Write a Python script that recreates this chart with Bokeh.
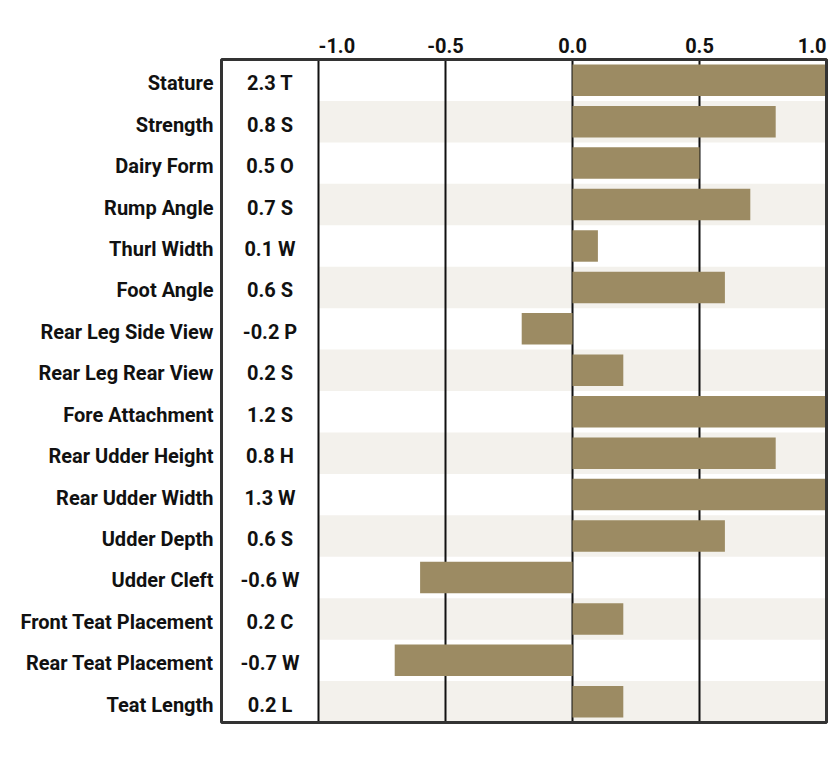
import numpy as np
from bokeh.plotting import figure
from bokeh.models import Range1d
from bokeh.embed import file_html
from bokeh.resources import INLINE
from bokeh.core.properties import value

traits = ["Stature", "Strength", "Dairy Form", "Rump Angle", "Thurl Width",
          "Foot Angle", "Rear Leg Side View", "Rear Leg Rear View",
          "Fore Attachment", "Rear Udder Height", "Rear Udder Width",
          "Udder Depth", "Udder Cleft", "Front Teat Placement",
          "Rear Teat Placement", "Teat Length"]
scores = [2.3, 0.8, 0.5, 0.7, 0.1, 0.6, -0.2, 0.2, 1.2, 0.8, 1.3, 0.6,
          -0.6, 0.2, -0.7, 0.2]
codes = ["T", "S", "O", "S", "W", "S", "P", "S", "S", "H", "W", "S",
         "W", "C", "W", "L"]
x_ticks = [-1.0, -0.5, 0.0, 0.5, 1.0]
tick_labels = ["-1.0", "-0.5", "0.0", "0.5", "1.0"]

FONT = "Roboto"
BAR = "#9C8B63"
SHADE = "#F3F1EC"
INK = "#111111"

# canvas geometry (pixels)
W, H = 834, 756
PX_X = 254.0            # pixels per unit on the score axis
X_MINUS1 = 318          # pixel of -1.0
BOX_PX = 97             # width of the value column
TOP_PX, BOT_PX = 59, 722

n = len(traits)
lo, hi = x_ticks[0], x_ticks[-1]
row_px = (BOT_PX - TOP_PX) / n
x_start = lo - X_MINUS1 / PX_X
x_end = lo + (W - X_MINUS1) / PX_X
y_start = -0.5 - (H - BOT_PX) / row_px
y_end = n - 0.5 + TOP_PX / row_px
box_left = lo - BOX_PX / PX_X
box_center = (box_left + lo) / 2.0

ys = [n - 1 - i for i in range(n)]
bar_right = list(np.clip(scores, lo, hi))
value_text = [f"{s:.1f} {c}" for s, c in zip(scores, codes)]
shade_y = [ys[i] for i in range(n) if i % 2 == 1]

p = figure(width=W, height=H, output_backend="svg", toolbar_location=None,
           x_range=Range1d(x_start, x_end), y_range=Range1d(y_start, y_end),
           min_border=0)
p.axis.visible = False
p.grid.visible = False
p.outline_line_color = None
p.background_fill_color = "white"
p.border_fill_color = "white"

# alternating row shading
p.hbar(y=shade_y, left=lo, right=hi, height=1.0, fill_color=SHADE,
       line_color=None)
# vertical reference lines
p.segment(x0=x_ticks, y0=-0.5, x1=x_ticks, y1=n - 0.5, line_color=INK,
          line_width=2)
# bars
p.hbar(y=ys, left=0, right=bar_right, height=0.76, fill_color=BAR,
       line_color=None)
# table border
p.quad(left=[box_left], right=[hi], bottom=[-0.5], top=[n - 0.5],
       fill_color=None, line_color="#333333", line_width=3)

# value column
p.text(x=box_center, y=ys, text=value_text, text_align="center",
       text_baseline="middle", y_offset=3, text_font=value(FONT),
       text_font_style="bold", text_font_size="20px", text_color=INK)
# trait names
p.text(x=box_left, y=ys, text=traits, text_align="right",
       text_baseline="middle", x_offset=-8, y_offset=3, text_font=value(FONT),
       text_font_style="bold", text_font_size="20px", text_color=INK)
# scale labels on top
aligns = ["left"] + ["center"] * (len(x_ticks) - 2) + ["right"]
p.text(x=x_ticks, y=n - 0.5, text=tick_labels, text_align=aligns,
       text_baseline="middle", y_offset=-14, text_font=value(FONT),
       text_font_style="bold", text_font_size="20px", text_color=INK)

open("out.html", "w").write(file_html(p, INLINE))
